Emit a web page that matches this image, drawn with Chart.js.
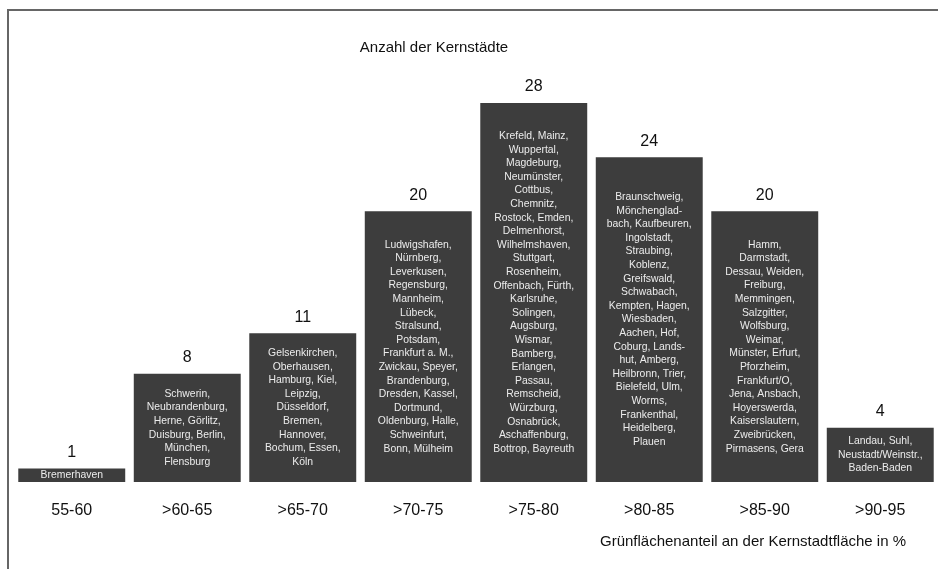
<!DOCTYPE html>
<html>
<head>
<meta charset="utf-8">
<script src="https://cdn.jsdelivr.net/npm/chart.js@4/dist/chart.umd.min.js"></script>
<style>
  html, body { margin: 0; padding: 0; background: #fff; }
  #wrap { position: relative; width: 938px; height: 569px; }
  #frame { position: absolute; left: 7px; top: 9px; width: 960px; height: 600px;
           border-left: 2px solid #666; border-top: 2px solid #666; }
  canvas { position: absolute; left: 0; top: 0; }
</style>
</head>
<body>
<div id="wrap">
  <div id="frame"></div>
  <canvas id="chart" width="938" height="569"></canvas>
</div>
<script>
const categories = ['55-60', '>60-65', '>65-70', '>70-75', '>75-80', '>80-85', '>85-90', '>90-95'];
const counts = [1, 8, 11, 20, 28, 24, 20, 4];
const cities = [
    ['Bremerhaven'],
    ['Schwerin,', 'Neubrandenburg,', 'Herne, Görlitz,', 'Duisburg, Berlin,', 'München,', 'Flensburg'],
    ['Gelsenkirchen,', 'Oberhausen,', 'Hamburg, Kiel,', 'Leipzig,', 'Düsseldorf,', 'Bremen,', 'Hannover,',
     'Bochum, Essen,', 'Köln'],
    ['Ludwigshafen,', 'Nürnberg,', 'Leverkusen,', 'Regensburg,', 'Mannheim,', 'Lübeck,', 'Stralsund,',
     'Potsdam,', 'Frankfurt a. M.,', 'Zwickau, Speyer,', 'Brandenburg,', 'Dresden, Kassel,', 'Dortmund,',
     'Oldenburg, Halle,', 'Schweinfurt,', 'Bonn, Mülheim'],
    ['Krefeld, Mainz,', 'Wuppertal,', 'Magdeburg,', 'Neumünster,', 'Cottbus,', 'Chemnitz,', 'Rostock, Emden,',
     'Delmenhorst,', 'Wilhelmshaven,', 'Stuttgart,', 'Rosenheim,', 'Offenbach, Fürth,', 'Karlsruhe,',
     'Solingen,', 'Augsburg,', 'Wismar,', 'Bamberg,', 'Erlangen,', 'Passau,', 'Remscheid,', 'Würzburg,',
     'Osnabrück,', 'Aschaffenburg,', 'Bottrop, Bayreuth'],
    ['Braunschweig,', 'Mönchenglad-', 'bach, Kaufbeuren,', 'Ingolstadt,', 'Straubing,', 'Koblenz,',
     'Greifswald,', 'Schwabach,', 'Kempten, Hagen,', 'Wiesbaden,', 'Aachen, Hof,', 'Coburg, Lands-',
     'hut, Amberg,', 'Heilbronn, Trier,', 'Bielefeld, Ulm,', 'Worms,', 'Frankenthal,', 'Heidelberg,', 'Plauen'],
    ['Hamm,', 'Darmstadt,', 'Dessau, Weiden,', 'Freiburg,', 'Memmingen,', 'Salzgitter,', 'Wolfsburg,',
     'Weimar,', 'Münster, Erfurt,', 'Pforzheim,', 'Frankfurt/O,', 'Jena, Ansbach,', 'Hoyerswerda,',
     'Kaiserslautern,', 'Zweibrücken,', 'Pirmasens, Gera'],
    ['Landau, Suhl,', 'Neustadt/Weinstr.,', 'Baden-Baden']
];
const chartTitle = 'Anzahl der Kernstädte';
const axisTitle = 'Grünflächenanteil an der Kernstadtfläche in %';

const FONT = "'Liberation Sans', Arial, Helvetica, sans-serif";

// Zahlen über den Balken, Städtenamen in den Balken, Titel
const barTexts = {
    id: 'barTexts',
    afterDatasetsDraw(chart) {
        const ctx = chart.ctx;
        const meta = chart.getDatasetMeta(0);
        ctx.save();
        ctx.textAlign = 'center';
        ctx.textBaseline = 'middle';
        meta.data.forEach((bar, i) => {
            ctx.fillStyle = '#111';
            ctx.font = '16px ' + FONT;
            ctx.fillText(String(counts[i]), bar.x, bar.y - 16);

            const lines = cities[i];
            const lh = 13.6;
            const mid = (bar.y + bar.base) / 2;
            const y0 = mid - (lines.length - 1) * lh / 2;
            ctx.fillStyle = '#ececec';
            ctx.font = '10.4px ' + FONT;
            lines.forEach((l, j) => ctx.fillText(l, bar.x, y0 + j * lh));
        });

        ctx.fillStyle = '#111';
        ctx.font = '15px ' + FONT;
        ctx.fillText(chartTitle, 434, 48);
        ctx.textAlign = 'right';
        ctx.fillText(axisTitle, 906, 542);
        ctx.restore();
    }
};

new Chart(document.getElementById('chart'), {
    type: 'bar',
    data: {
        labels: categories,
        datasets: [{
            data: counts,
            backgroundColor: '#3d3d3d',
            borderWidth: 0,
            barPercentage: 0.926,
            categoryPercentage: 1
        }]
    },
    options: {
        responsive: false,
        animation: false,
        layout: { padding: { top: 76, left: 14, right: 0, bottom: 0 } },
        plugins: {
            legend: { display: false },
            tooltip: { enabled: false },
            title: { display: false }
        },
        scales: {
            x: {
                grid: { display: false, drawTicks: false },
                border: { display: false },
                ticks: {
                    color: '#111',
                    font: { family: FONT, size: 16 },
                    padding: 19,
                    maxRotation: 0,
                    autoSkip: false
                },
                afterFit(scale) { scale.height = 87; }
            },
            y: {
                display: false,
                min: 0,
                max: 30
            }
        }
    },
    plugins: [barTexts]
});
</script>
</body>
</html>
